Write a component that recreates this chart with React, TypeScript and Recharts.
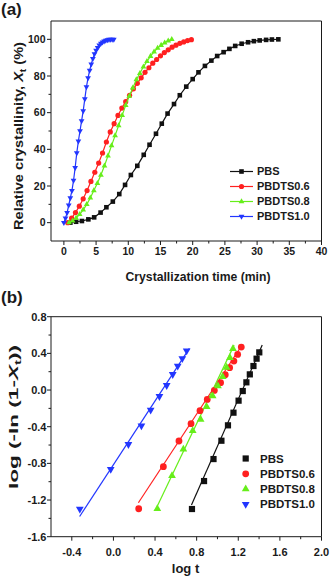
import React from "react";
import { ReferenceArea, Scatter, ScatterChart, XAxis, YAxis } from "recharts";

const FONT = "'Liberation Sans', Arial, sans-serif";
const INK = "#1a1a1a";
const BLACK = "#111111";
const RED = "#ff2020";
const GREEN = "#66ee1a";
const BLUE = "#2236ff";

// (a) relative crystallinity vs time
const pbsTime = [1.0, 1.9, 2.8, 3.8, 4.7, 5.7, 6.6, 7.6, 8.6, 9.5, 10.4, 11.4, 12.4, 13.3, 14.3, 15.2, 16.1, 17.1, 18.0, 19.0, 20.0, 20.9, 21.9, 22.9, 23.8, 24.8, 25.7, 26.6, 27.6, 28.6, 29.5, 30.4, 31.4, 32.3, 33.3];
const pbsXt = [0, 0.5, 0.9, 1.8, 2.9, 5.5, 8.4, 11.5, 15.6, 20.6, 26, 31, 37, 42.5, 48.5, 54, 59.5, 64.7, 69.5, 74.2, 78.3, 82, 85.5, 88.4, 90.9, 93, 94.8, 96.4, 97.6, 98.4, 99, 99.4, 99.7, 99.9, 100];

const p06Time = [0.6, 1.2, 1.8, 2.4, 3.0, 3.6, 4.2, 4.8, 5.4, 6.0, 6.6, 7.2, 7.8, 8.4, 9.0, 9.6, 10.2, 10.8, 11.4, 12.0, 12.6, 13.2, 13.8, 14.4, 15.0, 15.6, 16.2, 16.8, 17.4, 18.0, 18.6, 19.2, 19.8];
const p06Xt = [0, 2.5, 5.5, 9, 13, 17.5, 22.5, 27.5, 32.5, 38, 44, 49.5, 54, 58.5, 62.5, 66, 69.5, 73, 76, 79, 82, 84.5, 87, 89, 91, 92.8, 94.3, 95.7, 96.8, 97.8, 98.6, 99.3, 99.8];

const p08Time = [0.8, 1.35, 1.9, 2.45, 3.0, 3.55, 4.1, 4.65, 5.2, 5.75, 6.3, 6.85, 7.4, 7.95, 8.5, 9.05, 9.6, 10.15, 10.7, 11.25, 11.8, 12.35, 12.9, 13.45, 14.0, 14.55, 15.1, 15.65, 16.2, 16.75];
const p08Xt = [0, 1, 2.5, 4.5, 7, 10, 13.5, 17.5, 21.5, 26, 31, 36.5, 42, 47.5, 53, 58.5, 64, 69, 73.5, 78, 81.5, 85, 88, 90.8, 93.2, 95.2, 96.8, 98.1, 99.2, 100];

const p10Time = [0, 0.25, 0.5, 0.75, 1.0, 1.25, 1.5, 1.75, 2.0, 2.25, 2.5, 2.75, 3.0, 3.25, 3.5, 3.75, 4.0, 4.25, 4.5, 4.75, 5.0, 5.25, 5.5, 5.75, 6.0, 6.25, 6.5, 6.75, 7.0, 7.25, 7.5, 7.75];
const p10Xt = [0, 2.5, 5.5, 9.5, 13.5, 17.5, 23, 30, 38, 44.5, 50, 55.5, 61, 67.5, 74, 79, 83, 86.5, 89.5, 92, 94, 95.5, 96.8, 97.8, 98.5, 99, 99.4, 99.7, 99.9, 100, 100, 100];

// (b) Avrami plot
const pbsLogT = [0.755, 0.871, 0.962, 1.038, 1.101, 1.154, 1.203, 1.243, 1.278, 1.311, 1.346, 1.376, 1.402];
const pbsLogY = [-1.298, -0.993, -0.753, -0.553, -0.385, -0.247, -0.116, -0.011, 0.084, 0.171, 0.262, 0.342, 0.411];
const p06LogT = [0.243, 0.48, 0.63, 0.746, 0.832, 0.902, 0.97, 1.03, 1.075, 1.117, 1.158, 1.194, 1.229];
const p06LogY = [-1.295, -0.836, -0.556, -0.367, -0.225, -0.102, -0.004, 0.08, 0.167, 0.244, 0.316, 0.389, 0.469];
const p08LogT = [0.422, 0.563, 0.672, 0.762, 0.838, 0.896, 0.954, 1.005, 1.05, 1.088, 1.12, 1.149];
const p08LogY = [-1.295, -0.935, -0.647, -0.444, -0.32, -0.182, -0.065, 0.044, 0.145, 0.247, 0.353, 0.451];
const p10LogT = [-0.323, -0.026, 0.144, 0.269, 0.358, 0.442, 0.512, 0.57, 0.618, 0.662, 0.704];
const p10LogY = [-1.298, -0.865, -0.593, -0.389, -0.218, -0.069, 0.051, 0.171, 0.262, 0.345, 0.429];

// linear fits (end points)
const pbsFitT = [0.75, 1.43];
const pbsFitY = [-1.255, 0.49];
const p06FitT = [0.24, 1.23];
const p06FitY = [-1.23, 0.48];
const p08FitT = [0.42, 1.16];
const p08FitY = [-1.27, 0.49];
const p10FitT = [-0.325, 0.73];
const p10FitY = [-1.38, 0.455];

const seriesNames = ["PBS", "PBDTS0.6", "PBDTS0.8", "PBDTS1.0"];
const seriesColors = [BLACK, RED, GREEN, BLUE];

const xTicksA = [0, 2.5, 5, 7.5, 10, 12.5, 15, 17.5, 20, 22.5, 25, 27.5, 30, 32.5, 35, 37.5, 40];
const yTicksA = [0, 10, 20, 30, 40, 50, 60, 70, 80, 90, 100];
const xTicksB = [-0.4, -0.2, 0, 0.2, 0.4, 0.6, 0.8, 1.0, 1.2, 1.4, 1.6, 1.8, 2.0];
const yTicksB = [-1.6, -1.4, -1.2, -1.0, -0.8, -0.6, -0.4, -0.2, 0, 0.2, 0.4, 0.6, 0.8];

const pts = (xs: number[], ys: number[]) => xs.map((x, i) => ({ x, y: ys[i] }));

function marker(kind: number, color: string, s: number) {
  return (p: any) => {
    const { cx, cy } = p;
    if (cx == null || cy == null) return <g />;
    if (kind === 0) return <rect x={cx - s / 2} y={cy - s / 2} width={s} height={s} fill={color} />;
    if (kind === 1) return <circle cx={cx} cy={cy} r={s / 2 + 0.3} fill={color} />;
    const w = s * 1.25;
    const h = s * 1.1;
    if (kind === 2)
      return <polygon points={`${cx},${cy - (h * 2) / 3} ${cx - w / 2},${cy + h / 3} ${cx + w / 2},${cy + h / 3}`} fill={color} />;
    return <polygon points={`${cx},${cy + (h * 2) / 3} ${cx - w / 2},${cy - h / 3} ${cx + w / 2},${cy - h / 3}`} fill={color} />;
  };
}

const noDot = () => <g />;

function xTick(isMajor: (v: number) => boolean, fmt: (v: number) => string, dy: number, fs: number) {
  return (props: any) => {
    const { x, y, payload } = props;
    const major = isMajor(payload.value);
    return (
      <g>
        <line x1={x} x2={x} y1={y} y2={y + (major ? 4 : 2.5)} stroke={INK} />
        {major && (
          <text x={x} y={y + dy} textAnchor="middle" fontSize={fs} fontWeight="bold" fontFamily={FONT} fill={INK}>
            {fmt(payload.value)}
          </text>
        )}
      </g>
    );
  };
}

function yTick(isMajor: (v: number) => boolean, fmt: (v: number) => string, gap: number, fs: number) {
  return (props: any) => {
    const { x, y, payload } = props;
    const major = isMajor(payload.value);
    return (
      <g>
        <line x1={x} x2={x - (major ? 4 : 2.5)} y1={y} y2={y} stroke={INK} />
        {major && (
          <text x={x - gap} y={y} dy="0.35em" textAnchor="end" fontSize={fs} fontWeight="bold" fontFamily={FONT} fill={INK}>
            {fmt(payload.value)}
          </text>
        )}
      </g>
    );
  };
}

const tenths = (v: number) => Math.round(v * 10);

function PanelA() {
  const sets = [pts(pbsTime, pbsXt), pts(p06Time, p06Xt), pts(p08Time, p08Xt), pts(p10Time, p10Xt)];
  return (
    <ScatterChart width={331} height={290} margin={{ top: 21, right: 9.5, bottom: 0, left: 0 }}>
      <XAxis
        type="number"
        dataKey="x"
        domain={[-2, 40]}
        ticks={xTicksA}
        interval={0}
        tickSize={0}
        tickMargin={0}
        tickLine={false}
        axisLine={false}
        height={49}
        tick={xTick((v) => v % 5 === 0, (v) => String(v), 13.5, 10.5)}
        label={{
          content: () => (
            <text x={198} y={281} textAnchor="middle" fontSize={12.2} fontWeight="bold" fontFamily={FONT} fill={INK}>
              Crystallization time (min)
            </text>
          ),
        }}
      />
      <YAxis
        type="number"
        dataKey="y"
        domain={[-10, 110]}
        ticks={yTicksA}
        interval={0}
        tickSize={0}
        tickMargin={0}
        tickLine={false}
        axisLine={false}
        width={51}
        tick={yTick((v) => v % 20 === 0, (v) => String(v), 5.5, 10.5)}
        label={{
          content: () => (
            <text
              transform="translate(22.5,136) rotate(-90)"
              textAnchor="middle"
              fontSize={13}
              fontWeight="bold"
              fontFamily={FONT}
              fill={INK}
              textLength={188}
              lengthAdjust="spacingAndGlyphs"
            >
              Relative crystallinity, <tspan fontStyle="italic">X</tspan>
              <tspan fontSize={9} dy={3}>t</tspan>
              <tspan dy={-3}> (%)</tspan>
            </text>
          ),
        }}
      />
      <ReferenceArea x1={-2} x2={40} y1={-10} y2={110} fill="none" stroke={INK} strokeWidth={1} />
      {sets.map((d, i) => (
        <Scatter
          key={seriesNames[i]}
          name={seriesNames[i]}
          data={d}
          line={{ stroke: seriesColors[i], strokeWidth: 1.2 }}
          lineType="joint"
          shape={marker(i, seriesColors[i], 4.6)}
          isAnimationActive={false}
        />
      ))}
    </ScatterChart>
  );
}

function PanelB() {
  const sets = [pts(pbsLogT, pbsLogY), pts(p06LogT, p06LogY), pts(p08LogT, p08LogY), pts(p10LogT, p10LogY)];
  const fits = [pts(pbsFitT, pbsFitY), pts(p06FitT, p06FitY), pts(p08FitT, p08FitY), pts(p10FitT, p10FitY)];
  return (
    <ScatterChart width={331} height={294} margin={{ top: 31.7, right: 9.5, bottom: 0, left: 0 }}>
      <XAxis
        type="number"
        dataKey="x"
        domain={[-0.6, 2.0]}
        ticks={xTicksB}
        interval={0}
        tickSize={0}
        tickMargin={0}
        tickLine={false}
        axisLine={false}
        height={42.3}
        tick={xTick((v) => tenths(v) % 4 === 0, (v) => v.toFixed(1), 19, 11)}
        label={{
          content: () => (
            <text x={185.5} y={288} textAnchor="middle" fontSize={13} fontWeight="bold" fontFamily={FONT} fill={INK}>
              log t
            </text>
          ),
        }}
      />
      <YAxis
        type="number"
        dataKey="y"
        domain={[-1.6, 0.8]}
        ticks={yTicksB}
        interval={0}
        tickSize={0}
        tickMargin={0}
        tickLine={false}
        axisLine={false}
        width={51}
        tick={yTick((v) => tenths(v) % 4 === 0, (v) => v.toFixed(1), 4.5, 11)}
        label={{
          content: () => (
            <text
              transform="translate(17.5,132) rotate(-90)"
              textAnchor="middle"
              fontSize={13.5}
              fontWeight="bold"
              fontFamily={FONT}
              fill={INK}
              textLength={144}
              lengthAdjust="spacingAndGlyphs"
            >
              log (-ln (1-<tspan fontStyle="italic">X</tspan>
              <tspan fontSize={9} dy={3}>t</tspan>
              <tspan dy={-3}>))</tspan>
            </text>
          ),
        }}
      />
      <ReferenceArea x1={-0.6} x2={2.0} y1={-1.6} y2={0.8} fill="none" stroke={INK} strokeWidth={1} />
      {fits.map((d, i) => (
        <Scatter
          key={"fit" + i}
          data={d}
          line={{ stroke: seriesColors[i], strokeWidth: 1.2 }}
          lineType="joint"
          shape={noDot}
          isAnimationActive={false}
        />
      ))}
      {sets.map((d, i) => (
        <Scatter key={seriesNames[i]} name={seriesNames[i]} data={d} shape={marker(i, seriesColors[i], 6.2)} isAnimationActive={false} />
      ))}
    </ScatterChart>
  );
}

const legendAY = [171.5, 186.5, 201.5, 216.5];
const legendBY = [458.5, 473.8, 489, 504.3];

export default function App() {
  return (
    <div style={{ position: "absolute", left: 0, top: 0, width: 331, height: 579, background: "#fff" }}>
      <div style={{ position: "absolute", left: 0, top: 0 }}>
        <PanelA />
      </div>
      <div style={{ position: "absolute", left: 0, top: 285 }}>
        <PanelB />
      </div>
      <svg width={331} height={579} style={{ position: "absolute", left: 0, top: 0, pointerEvents: "none" }}>
        <text x={1} y={15} fontSize={17} fontWeight="bold" fontFamily={FONT} fill={INK}>(a)</text>
        <text x={1} y={303} fontSize={17} fontWeight="bold" fontFamily={FONT} fill={INK}>(b)</text>
        {seriesNames.map((n, i) => (
          <g key={"la" + n}>
            <line x1={230} x2={253} y1={legendAY[i]} y2={legendAY[i]} stroke={seriesColors[i]} strokeWidth={1.2} />
            {marker(i, seriesColors[i], 4.6)({ cx: 241.5, cy: legendAY[i] })}
            <text x={257} y={legendAY[i]} dy="0.36em" fontSize={11} fontWeight="bold" fontFamily={FONT} fill={INK}>{n}</text>
          </g>
        ))}
        {seriesNames.map((n, i) => (
          <g key={"lb" + n}>
            {marker(i, seriesColors[i], 6.2)({ cx: 245.7, cy: legendBY[i] })}
            <text x={260} y={legendBY[i]} dy="0.36em" fontSize={11.5} fontWeight="bold" fontFamily={FONT} fill={INK}>{n}</text>
          </g>
        ))}
      </svg>
    </div>
  );
}
